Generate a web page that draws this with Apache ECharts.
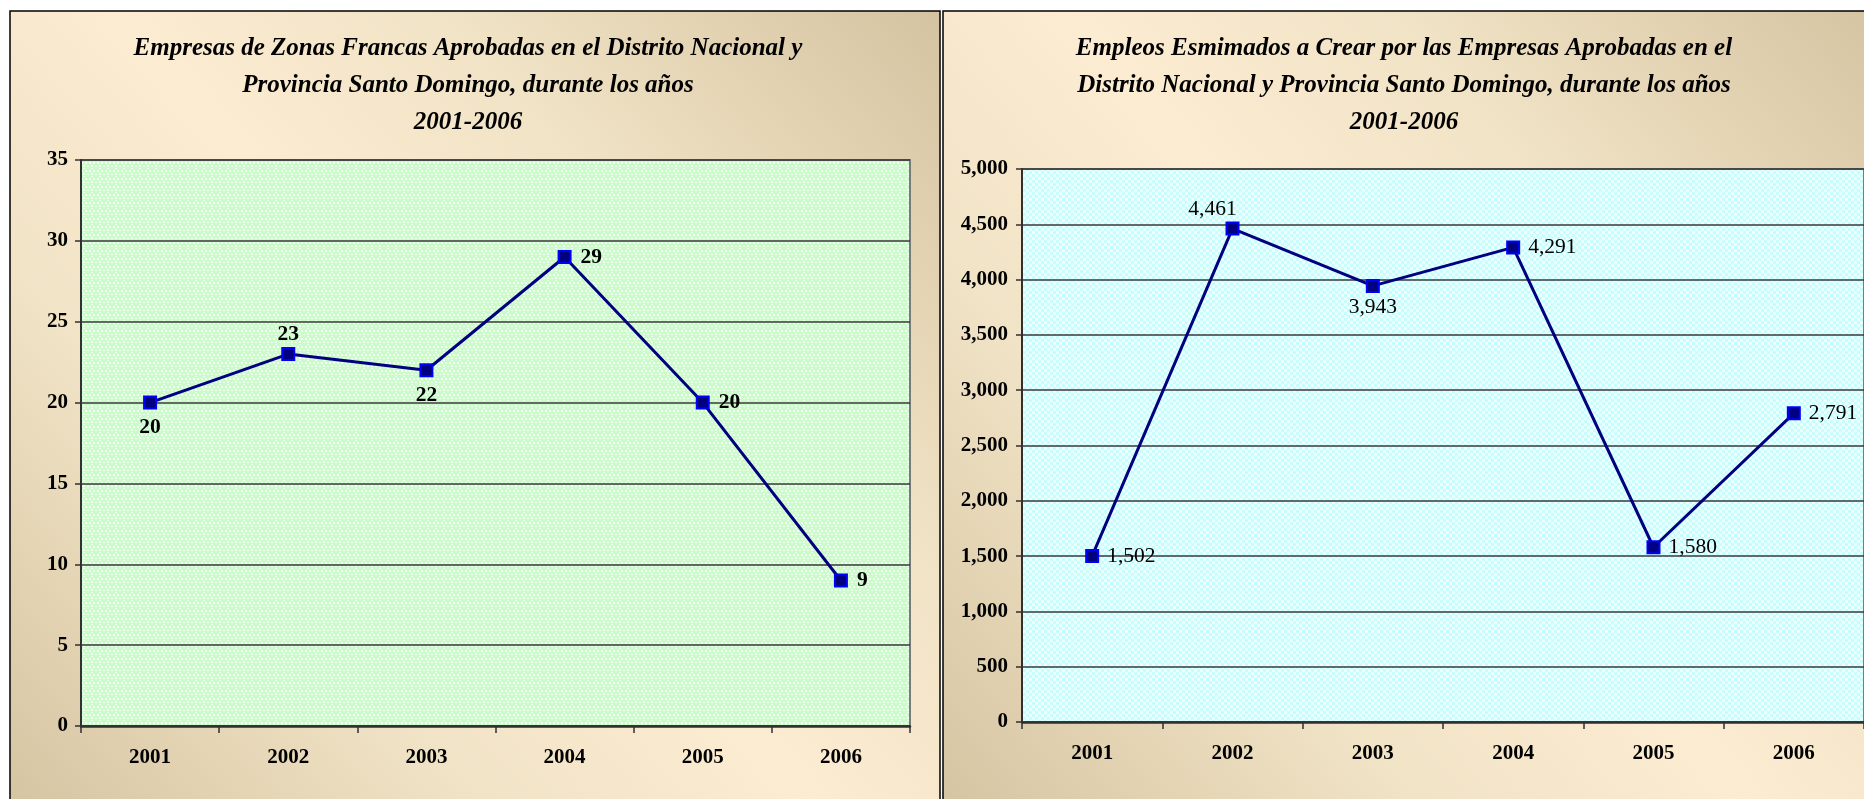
<!DOCTYPE html>
<html>
<head>
<meta charset="utf-8">
<script src="https://cdn.jsdelivr.net/npm/echarts@6/dist/echarts.min.js"></script>
<style>
  html, body { margin: 0; padding: 0; background: #ffffff; }
  #chart { width: 1864px; height: 799px; }
</style>
</head>
<body>
<div id="chart"></div>
<script>
// data
const years = ['2001', '2002', '2003', '2004', '2005', '2006'];
const empresas = [20, 23, 22, 29, 20, 9];
const empleos = [1502, 4461, 3943, 4291, 1580, 2791];

const leftTitle = 'Empresas de Zonas Francas Aprobadas en el Distrito Nacional y\nProvincia Santo Domingo, durante los años\n2001-2006';
const rightTitle = 'Empleos Esmimados a Crear por las Empresas Aprobadas en el\nDistrito Nacional y Provincia Santo Domingo, durante los años\n2001-2006';

// where each value label sits next to its point
const leftLabelPos = ['bottom', 'top', 'bottom', 'right', 'right', 'right'];
const rightLabelPos = ['right', 'top', 'bottom', 'right', 'right', 'right'];

const serif = "'Liberation Serif', 'Times New Roman', 'DejaVu Serif', serif";

// gap between marker and label, by side
const labelGap = {
    0: { top: 2, bottom: 7, right: 9 },
    1: { top: 1, bottom: 3, right: 8 }
};

// small tiles for the plot area fills
const makeLattice = () => {
    const c = document.createElement('canvas');
    c.width = 8; c.height = 8;
    const g = c.getContext('2d');
    g.fillStyle = '#c9fcc9';
    g.fillRect(0, 0, 8, 8);
    g.fillStyle = '#f4fff4';
    g.fillRect(3, 0, 2, 1);
    g.fillRect(1, 2, 2, 2);
    g.fillRect(5, 2, 2, 2);
    g.fillRect(3, 5, 2, 2);
    g.fillRect(0, 6, 1, 1);
    g.fillRect(7, 6, 1, 1);
    return c;
};

const makeChecker = () => {
    const c = document.createElement('canvas');
    c.width = 6; c.height = 6;
    const g = c.getContext('2d');
    g.fillStyle = '#eefefe';
    g.fillRect(0, 0, 6, 6);
    g.fillStyle = '#c6fdfd';
    g.fillRect(0, 0, 3, 3);
    g.fillRect(3, 3, 3, 3);
    return c;
};

const panelFill = () => new echarts.graphic.LinearGradient(1, 0, 0, 1, [
    { offset: 0, color: '#d4c3a0' },
    { offset: 0.3, color: '#f1e3c6' },
    { offset: 0.5, color: '#fcecd2' },
    { offset: 0.7, color: '#f1e3c6' },
    { offset: 1, color: '#d4c3a0' }
]);

const yAxisBase = (max, interval, fmt, margin) => ({
    type: 'value',
    min: 0,
    max: max,
    interval: interval,
    axisLine: { show: true, lineStyle: { color: '#303030', width: 2 } },
    axisTick: { show: true, length: 6, lineStyle: { color: '#303030', width: 1.5 } },
    axisLabel: {
        color: '#000', fontFamily: serif, fontWeight: 'bold', fontSize: 21, margin: margin,
        formatter: fmt
    },
    splitLine: { show: true, lineStyle: { color: '#383838', width: 1.5 } }
});

const xAxisBase = () => ({
    type: 'category',
    data: years,
    boundaryGap: true,
    axisLine: { show: true, lineStyle: { color: '#303030', width: 2.5 } },
    axisTick: { show: true, length: 7, lineStyle: { color: '#303030', width: 1.5 } },
    axisLabel: { color: '#000', fontFamily: serif, fontWeight: 'bold', fontSize: 21, margin: 21 },
    splitLine: { show: false }
});

const lineSeries = (values, axisIdx, positions, bold, fmt) => ({
    type: 'line',
    xAxisIndex: axisIdx,
    yAxisIndex: axisIdx,
    data: values.map((v, i) => ({
        value: v,
        label: {
            position: positions[i],
            distance: labelGap[axisIdx][positions[i]],
            offset: (axisIdx === 1 && i === 1) ? [-20, 0] : [0, 0]
        }
    })),
    symbol: 'rect',
    symbolSize: 12,
    lineStyle: { color: '#000080', width: 3 },
    itemStyle: { color: '#000080', borderColor: '#0000ff', borderWidth: 2 },
    label: {
        show: true,
        color: '#000',
        fontFamily: serif,
        fontSize: 21.5,
        fontWeight: bold ? 'bold' : 'normal',
        formatter: p => fmt(p.value)
    },
    animation: false
});

const fmtThousands = v => Number(v).toLocaleString('en-US');

const chart = echarts.init(document.getElementById('chart'), null, { renderer: 'canvas' });

const titleStyle = {
    fontFamily: serif, fontStyle: 'italic', fontWeight: 'bold',
    fontSize: 25, lineHeight: 37, color: '#000'
};

const option = {
    animation: false,
    backgroundColor: '#ffffff',
    graphic: [
        {
            type: 'rect', z: -10, silent: true,
            shape: { x: 10, y: 11, width: 930, height: 820 },
            style: { fill: panelFill(), stroke: '#000', lineWidth: 1.5 }
        },
        {
            type: 'rect', z: -10, silent: true,
            shape: { x: 943, y: 11, width: 950, height: 820 },
            style: { fill: panelFill(), stroke: '#000', lineWidth: 1.5 }
        }
    ],
    title: [
        { text: leftTitle, left: 463, top: 25, textAlign: 'center', textStyle: titleStyle },
        { text: rightTitle, left: 1399, top: 25, textAlign: 'center', textStyle: titleStyle }
    ],
    grid: [
        {
            left: 81, top: 160, width: 829, height: 566,
            show: true,
            backgroundColor: { image: makeLattice(), repeat: 'repeat' },
            borderColor: '#7a7a7a', borderWidth: 2
        },
        {
            left: 1022, top: 169, width: 847, height: 553,
            show: true,
            backgroundColor: { image: makeChecker(), repeat: 'repeat' },
            borderColor: '#7a7a7a', borderWidth: 2
        }
    ],
    xAxis: [
        Object.assign(xAxisBase(), { gridIndex: 0 }),
        Object.assign(xAxisBase(), { gridIndex: 1 })
    ],
    yAxis: [
        Object.assign(yAxisBase(35, 5, v => v, 13), { gridIndex: 0 }),
        Object.assign(yAxisBase(5000, 500, fmtThousands, 14), { gridIndex: 1 })
    ],
    series: [
        lineSeries(empresas, 0, leftLabelPos, true, v => v),
        lineSeries(empleos, 1, rightLabelPos, false, fmtThousands)
    ]
};

chart.setOption(option);
</script>
</body>
</html>
